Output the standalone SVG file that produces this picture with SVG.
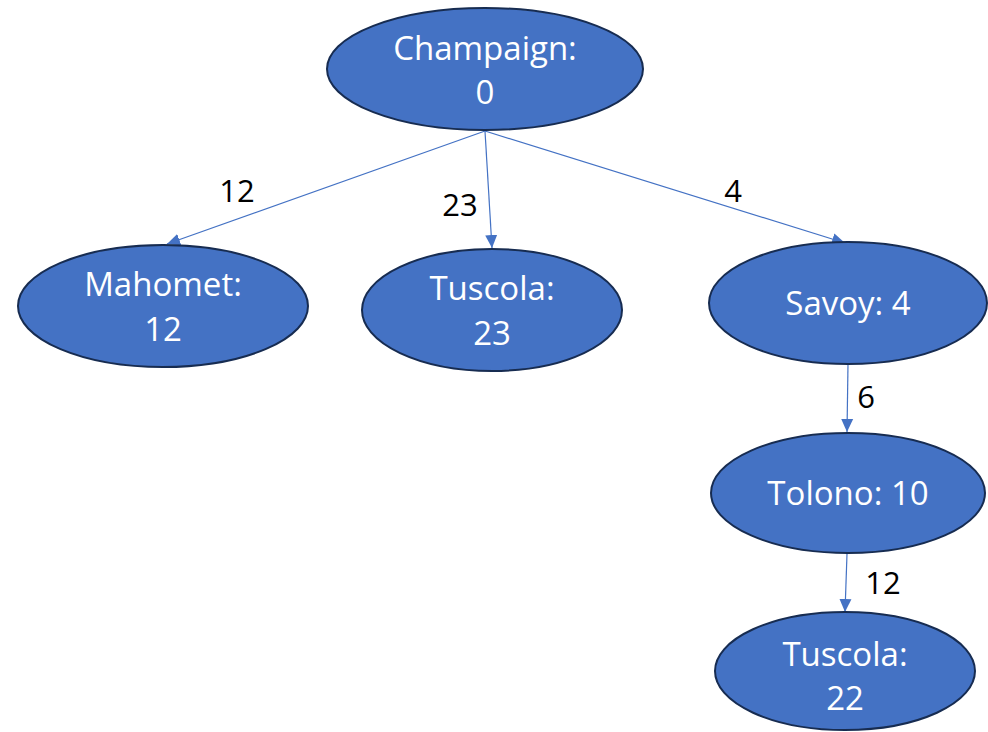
<svg xmlns="http://www.w3.org/2000/svg" width="988" height="732" viewBox="0 0 988 732">
<style>
.node ellipse{fill:#4472C4;stroke:#172C51;stroke-width:2}
.node text{fill:#fff;font-family:"Open Sans","Noto Sans","Liberation Sans",sans-serif;font-size:33px;text-anchor:middle}
.edge line{stroke:#4472C4;stroke-width:1.2;marker-end:url(#arr)}
.lbl{fill:#000;font-family:"Open Sans","Noto Sans","Liberation Sans",sans-serif;font-size:31px;text-anchor:middle}
</style>
<defs>
<marker id="arr" markerUnits="userSpaceOnUse" markerWidth="14" markerHeight="14" viewBox="0 0 14 14" refX="13" refY="7" orient="auto">
<path d="M0,1 L13,7 L0,13 Z" fill="#4472C4"/>
</marker>
</defs>
<g id="connectors" class="edge">
<line x1="485" y1="131" x2="167" y2="244"/>
<line x1="485" y1="131" x2="492" y2="248"/>
<line x1="485" y1="131" x2="845" y2="243"/>
<line x1="848" y1="364" x2="847" y2="432"/>
<line x1="847" y1="554" x2="845" y2="612"/>
</g>
<g id="edge-labels">
<text class="lbl" x="237" y="202">12</text>
<text class="lbl" x="460" y="216">23</text>
<text class="lbl" x="733" y="202">4</text>
<text class="lbl" x="866" y="408">6</text>
<text class="lbl" x="883" y="594">12</text>
</g>
<g id="champaign" class="node">
<ellipse cx="485" cy="69" rx="158" ry="61"/>
<text x="485" y="60">Champaign:</text>
<text x="485" y="104">0</text>
</g>
<g id="mahomet" class="node">
<ellipse cx="163" cy="306" rx="145" ry="61"/>
<text x="163" y="296">Mahomet:</text>
<text x="163" y="341">12</text>
</g>
<g id="tuscola23" class="node">
<ellipse cx="492" cy="310" rx="130" ry="61"/>
<text x="492" y="300">Tuscola:</text>
<text x="492" y="345">23</text>
</g>
<g id="savoy" class="node">
<ellipse cx="848" cy="303" rx="139" ry="61"/>
<text x="848" y="315">Savoy: 4</text>
</g>
<g id="tolono" class="node">
<ellipse cx="848" cy="493" rx="137" ry="60"/>
<text x="848" y="505">Tolono: 10</text>
</g>
<g id="tuscola22" class="node">
<ellipse cx="845" cy="671" rx="130" ry="59"/>
<text x="845" y="666">Tuscola:</text>
<text x="845" y="710">22</text>
</g>
</svg>
